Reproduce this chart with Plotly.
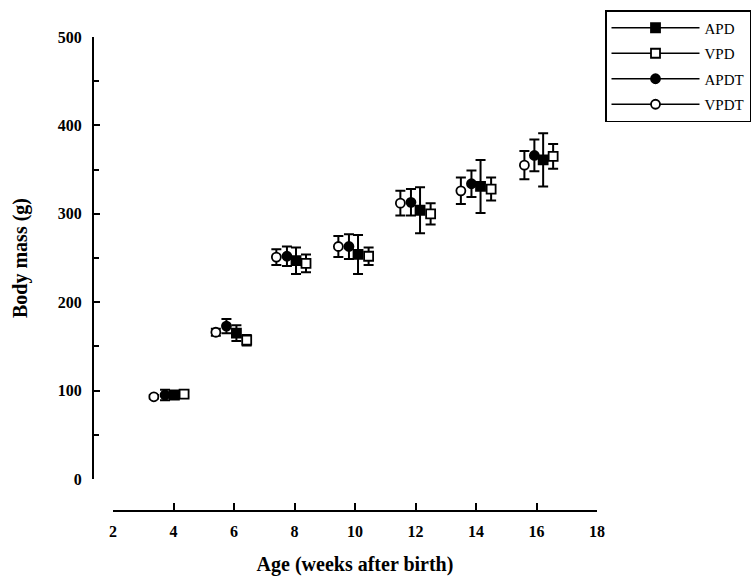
import plotly.graph_objects as go

# Data (age in weeks, body mass in g, +/- error)
series_names = ["APD", "VPD", "APDT", "VPDT"]

apd_x = [4.03, 6.08, 8.05, 10.1, 12.15, 14.15, 16.22]
apd_y = [95, 165, 247, 254, 304, 331, 361]
apd_err = [4, 9, 15, 22, 26, 30, 30]

vpd_x = [4.35, 6.42, 8.38, 10.45, 12.5, 14.5, 16.55]
vpd_y = [96, 157, 244, 252, 300, 328, 365]
vpd_err = [3, 6, 10, 10, 12, 13, 14]

apdt_x = [3.72, 5.75, 7.75, 9.8, 11.85, 13.85, 15.93]
apdt_y = [95, 173, 252, 263, 313, 334, 366]
apdt_err = [6, 8, 11, 14, 15, 15, 18]

vpdt_x = [3.35, 5.4, 7.4, 9.45, 11.5, 13.5, 15.6]
vpdt_y = [93, 166, 251, 263, 312, 326, 355]
vpdt_err = [2, 4, 9, 12, 14, 15, 16]

x_ticks = [2, 4, 6, 8, 10, 12, 14, 16, 18]
y_ticks = [0, 100, 200, 300, 400, 500]

styles = {
    "APD": dict(symbol="square", color="black"),
    "VPD": dict(symbol="square", color="white"),
    "APDT": dict(symbol="circle", color="black"),
    "VPDT": dict(symbol="circle", color="white"),
}
data = {
    "APD": (apd_x, apd_y, apd_err),
    "VPD": (vpd_x, vpd_y, vpd_err),
    "APDT": (apdt_x, apdt_y, apdt_err),
    "VPDT": (vpdt_x, vpdt_y, vpdt_err),
}

fig = go.Figure()
for name in series_names:
    xs, ys, es = data[name]
    st = styles[name]
    fig.add_trace(go.Scatter(
        x=xs, y=ys, mode="markers", showlegend=False,
        marker=dict(symbol=st["symbol"], size=9, color=st["color"],
                    line=dict(color="black", width=1.8)),
        error_y=dict(type="data", array=es, visible=True, color="black",
                     thickness=2, width=5),
    ))
# legend entries
for name in series_names:
    st = styles[name]
    fig.add_trace(go.Scatter(
        x=[None], y=[None], mode="lines+markers", name=name,
        legendgroup=name,
        line=dict(color="black", width=1.5),
        marker=dict(symbol=st["symbol"], size=9, color=st["color"],
                    line=dict(color="black", width=1.8)),
    ))

L, R, T, B = 93, 144, 37, 65
W, H = 756, 576
pw = W - L - R
ph = H - T - B
fig.update_layout(
    width=W, height=H,
    margin=dict(l=L, r=R, t=T, b=B, autoexpand=False),
    paper_bgcolor="white", plot_bgcolor="white",
    font=dict(family="Liberation Serif", color="black"),
    legend=dict(
        x=(605 - L) / pw, y=1 + (T - 10) / ph, xanchor="left", yanchor="top",
        bordercolor="black", borderwidth=1.5, bgcolor="white",
        font=dict(family="Liberation Serif", size=15, color="black"),
        itemwidth=88, tracegroupgap=3,
    ),
    xaxis=dict(
        domain=[(113 - L) / pw, (597 - L) / pw],
        anchor="free", position=0,
        range=[2, 18], tickvals=x_ticks,
        showline=True, linecolor="black", linewidth=2,
        ticks="inside", ticklen=7, tickwidth=2, tickcolor="black",
        ticklabelstandoff=6,
        showgrid=False, zeroline=False,
        tickfont=dict(family="Liberation Serif", size=16, color="black", weight="bold"),
        title=dict(text="<b>Age (weeks after birth)</b>", standoff=19,
                   font=dict(family="Liberation Serif", size=20, color="black")),
    ),
    yaxis=dict(
        domain=[(H - B - 479) / ph, 1],
        anchor="free", position=0,
        range=[0, 500], tickvals=y_ticks,
        showline=True, linecolor="black", linewidth=2,
        ticks="inside", ticklen=6, tickwidth=2, tickcolor="black",
        ticklabelstandoff=7,
        minor=dict(dtick=50, ticks="inside", ticklen=5, tickwidth=1.5, tickcolor="black"),
        showgrid=False, zeroline=False,
        tickfont=dict(family="Liberation Serif", size=16, color="black", weight="bold"),
        title=dict(text="<b>Body mass (g)</b>", standoff=24,
                   font=dict(family="Liberation Serif", size=20, color="black")),
    ),
)

fig.write_html("out.html")
